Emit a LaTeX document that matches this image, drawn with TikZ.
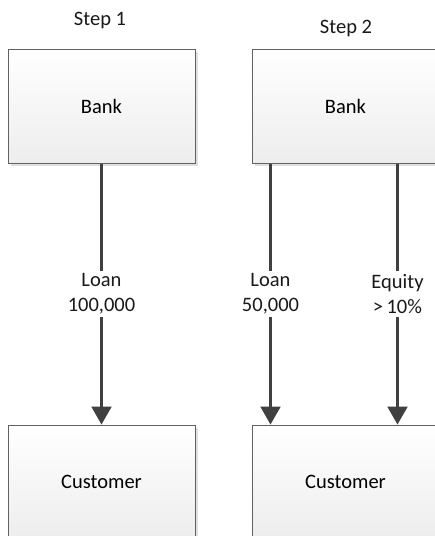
\documentclass[tikz,border=0pt]{standalone}
\usepackage{fontspec}
\setmainfont{Carlito}
\usetikzlibrary{arrows.meta,calc}
\begin{document}
\begin{tikzpicture}[x=1pt,y=-1pt,
  font=\fontsize{20.5}{25}\selectfont,
  box/.style={draw=black!62,line width=1pt,top color=white,bottom color=black!7,
    minimum width=187pt,minimum height=114pt,inner sep=0pt,
    drop shadow/.style={}},
  shadowbox/.style={fill=black!14,draw=none},
  flow/.style={draw=black!75,line width=2.2pt,-{Triangle[width=20pt,length=18pt]}},
  lbl/.style={fill=white,align=center,inner sep=3pt,text=black!90},
  steplbl/.style={text=black!90}]
\useasboundingbox (0,0) rectangle (435,536);
\clip (0,0) rectangle (435,536);
% shadows
\fill[black!12] (11,52) rectangle (198,166);
\fill[black!12] (255,52) rectangle (442,166);
\fill[black!12] (11,428) rectangle (198,545);
\fill[black!12] (255,428) rectangle (442,545);
% boxes
\node[box] (bank1) at (101.5,106) {Bank};
\node[box] (cust1) at (101.5,482) {Customer};
\node[box] (bank2) at (345.5,106) {Bank};
\node[box] (cust2) at (345.5,482) {Customer};
% step labels
\node[steplbl] (s1) at (100,20) {Step 1};
\node[steplbl] (s2) at (346,28) {Step 2};
% connectors
\draw[flow] (bank1.south) -- node[lbl] (l1) {Loan\\100,000} (cust1.north);
\draw[flow] ($(bank2.south west)+(19,0)$) -- node[lbl] (l2) {Loan\\50,000} ($(cust2.north west)+(19,0)$);
\draw[flow] ($(bank2.south west)+(146,0)$) -- node[lbl] (l3) {Equity\\{>}\,10\%} ($(cust2.north west)+(146,0)$);
\end{tikzpicture}
\end{document}
